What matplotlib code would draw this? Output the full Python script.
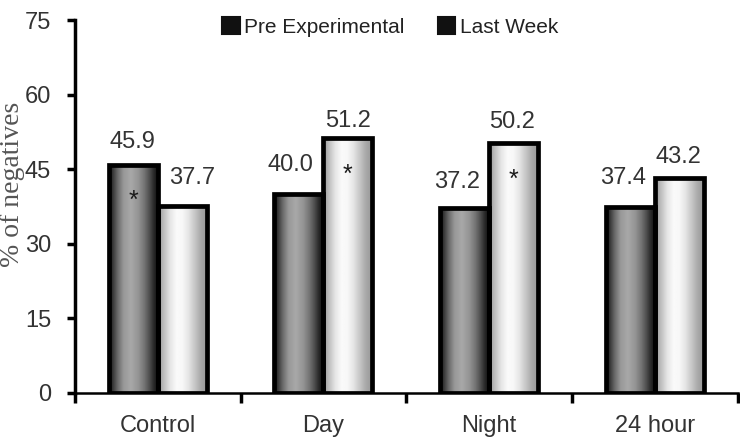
import numpy as np
import matplotlib
matplotlib.use("Agg")
import matplotlib.pyplot as plt
from matplotlib.patches import Rectangle

categories = ["Control", "Day", "Night", "24 hour"]
pre_experimental = [45.9, 40.0, 37.2, 37.4]
last_week = [37.7, 51.2, 50.2, 43.2]
pre_sig = [True, False, False, False]
last_sig = [False, True, True, False]
series_names = ["Pre Experimental", "Last Week"]
yticks = [0, 15, 30, 45, 60, 75]

# value-label nudges in pixels (layout only)
pre_label_nudge = [(-1, 12), (-8, 18), (-8, 15), (-7, 18)]
last_label_nudge = [(10, 17), (0, 6), (-2, 10), (-1, 10)]

plt.rcParams['font.family'] = ['Liberation Sans', 'DejaVu Sans']
fig = plt.figure(figsize=(7.4, 4.38), dpi=100)
ax = fig.add_axes([0.101, 0.103, 0.896, 0.851])

x = np.arange(len(categories))
w = 0.295

# gradient profiles (position, gray level)
dark_pos = [0.0, 0.08, 0.18, 0.3, 0.45, 0.6, 0.72, 0.82, 0.92, 1.0]
dark_val = [0.08, 0.22, 0.42, 0.60, 0.66, 0.58, 0.46, 0.32, 0.16, 0.06]
light_pos = [0.0, 0.1, 0.25, 0.38, 0.5, 0.62, 0.75, 0.88, 1.0]
light_val = [0.58, 0.72, 0.90, 0.98, 0.97, 0.90, 0.78, 0.66, 0.60]

def grad(pos, val):
    t = np.linspace(0, 1, 200)
    return np.interp(t, pos, val)[None, :]

text_color = '#333333'
for vals, off, profile, sig, nudge in [
    (pre_experimental, -w / 2, grad(dark_pos, dark_val), pre_sig, pre_label_nudge),
    (last_week, w / 2, grad(light_pos, light_val), last_sig, last_label_nudge),
]:
    bars = ax.bar(x + off, vals, width=w, facecolor='none', edgecolor='black',
                  linewidth=3.4, zorder=3)
    for b, v, s, (dx, dy) in zip(bars, vals, sig, nudge):
        x0, y0 = b.get_x(), b.get_y()
        im = ax.imshow(profile, cmap='gray', vmin=0, vmax=1, aspect='auto',
                       extent=[x0, x0 + b.get_width(), y0, y0 + b.get_height()],
                       interpolation='bilinear', zorder=2)
        im.set_clip_path(b)
        ax.annotate(f"{v:.1f}", (x0 + b.get_width() / 2, v), xytext=(dx, dy),
                    textcoords='offset pixels', ha='center', va='bottom',
                    fontsize=17, color=text_color)
        if s:
            ax.annotate("*", (x0 + b.get_width() / 2, v), xytext=(0, -24),
                        textcoords='offset pixels', ha='center', va='top',
                        fontsize=18, color='#1a1a1a', zorder=5)

ax.set_xlim(-0.5, len(categories) - 0.5)
ax.set_ylim(0, 75)
ax.set_yticks(yticks)
ax.set_xticks(np.arange(len(categories) + 1) - 0.5)
ax.set_xticklabels([])
ax.set_xticks(x, minor=True)
ax.set_xticklabels(categories, minor=True)
ax.tick_params(axis='x', which='minor', length=0, pad=16, labelsize=17, labelcolor=text_color)
ax.tick_params(axis='x', which='major', length=7, width=2.5, direction='out')
ax.tick_params(axis='y', length=6, width=2.5, direction='out', labelsize=17,
               labelcolor=text_color, pad=11)
for sp in ['top', 'right']:
    ax.spines[sp].set_visible(False)
ax.spines['left'].set_linewidth(2.5)
ax.spines['bottom'].set_linewidth(1.8)

ax.set_ylabel("% of negatives", family=['Liberation Serif', 'DejaVu Serif'],
              fontsize=20, color='#555555')
ax.yaxis.set_label_coords(-0.075, 0.56)

handles = [Rectangle((0, 0), 1, 1, facecolor='#111111', edgecolor='#111111',
                     linewidth=1.5, joinstyle='round'),
           Rectangle((0, 0), 1, 1, facecolor='#111111', edgecolor='#111111',
                     linewidth=1.5, joinstyle='round')]
ax.legend(handles, series_names, ncol=2, frameon=False, loc='center',
          bbox_to_anchor=(0.527, 0.938), bbox_transform=fig.transFigure,
          fontsize=15, handlelength=0.85, handleheight=0.85, handletextpad=0.2,
          columnspacing=1.6, labelcolor='#222222')

fig.savefig("out.png", dpi=100)
